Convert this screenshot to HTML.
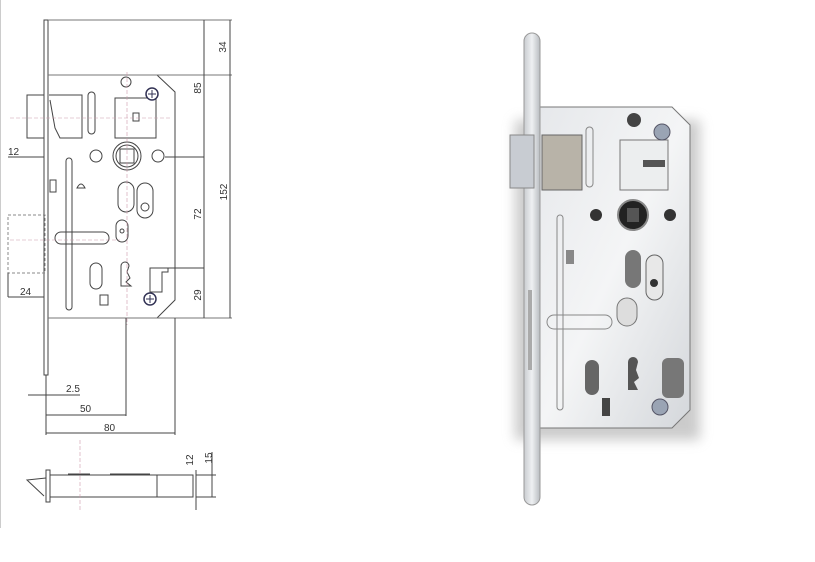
<!DOCTYPE html>
<html><head><meta charset="utf-8"><style>
html,body{margin:0;padding:0;background:#fff}
svg{display:block}
text{font-family:"Liberation Sans",sans-serif;font-size:10px;fill:#333}
</style></head><body>
<svg width="815" height="562" viewBox="0 0 815 562" xmlns="http://www.w3.org/2000/svg">
<defs>
<linearGradient id="plate" x1="0" x2="1"><stop offset="0" stop-color="#c9ccd0"/><stop offset="0.5" stop-color="#eef0f2"/><stop offset="1" stop-color="#b8bcc0"/></linearGradient>
<linearGradient id="body" x1="0" y1="0" x2="1" y2="1"><stop offset="0" stop-color="#e6e8eb"/><stop offset="0.5" stop-color="#f4f5f6"/><stop offset="1" stop-color="#d4d7db"/></linearGradient>
<filter id="blur"><feGaussianBlur stdDeviation="6"/></filter>
</defs>
<line x1="0.5" y1="0" x2="0.5" y2="528" stroke="#ccc"/>
<g fill="none" stroke="#444" stroke-width="1">
<!-- faceplate -->
<rect x="44" y="20" width="4" height="355"/>
<line x1="48" y1="20" x2="232" y2="20" stroke="#777"/>
<!-- case -->
<path d="M48 75 H157 L175 92 V300 L157 318 H48"/>
<line x1="48" y1="75" x2="232" y2="75" stroke="#777"/>
<line x1="48" y1="318" x2="232" y2="318" stroke="#777"/>
<!-- latch -->
<rect x="27" y="95" width="17" height="43"/>
<path d="M49 95 H82 V138 H60 L55 128 L50 100"/>
<rect x="88" y="92" width="7" height="42" rx="3.5"/>
<path d="M115 98 H156 V138 H115 Z"/>
<rect x="133" y="113" width="6" height="8"/>
<!-- spindle -->
<circle cx="127" cy="156" r="14"/><circle cx="127" cy="156" r="11"/>
<rect x="120" y="149" width="14" height="14"/>
<circle cx="96" cy="156" r="6"/><circle cx="158" cy="156" r="6"/>
<circle cx="126" cy="82" r="5"/>
<!-- slots -->
<rect x="118" y="182" width="16" height="30" rx="8"/>
<rect x="137" y="183" width="16" height="35" rx="8"/>
<circle cx="145" cy="207" r="4"/>
<rect x="116" y="220" width="12" height="22" rx="6"/><circle cx="122" cy="231" r="2"/>
<rect x="66" y="158" width="6" height="152" rx="3"/>
<rect x="55" y="232" width="54" height="12" rx="6"/>
<rect x="90" y="263" width="12" height="26" rx="6"/>
<path d="M121 266 a4 4 0 1 1 8 0 l-2 6 l3 6 l-4 4 l5 4 H121 Z"/>
<path d="M150 268 H168 V272 H162 V292 H150 Z"/>
<path d="M100 295 H108 V305 H100 Z"/>
<path d="M77 188 q4 -8 8 0 Z"/>
<rect x="50" y="180" width="6" height="12"/>
<!-- bolt dashed -->
<rect x="8" y="215" width="37" height="58" stroke-dasharray="3,2" stroke="#888"/>
<!-- dims -->
<line x1="204" y1="20" x2="204" y2="318"/>
<line x1="230" y1="20" x2="230" y2="318"/>
<line x1="165" y1="157" x2="204" y2="157"/>
<line x1="168" y1="268" x2="204" y2="268"/>
<line x1="8" y1="157" x2="44" y2="157"/>
<line x1="8" y1="297" x2="44" y2="297"/>
<line x1="8" y1="273" x2="8" y2="297"/>
<line x1="126" y1="318" x2="126" y2="416"/>
<line x1="175" y1="318" x2="175" y2="435"/>
<line x1="46" y1="375" x2="46" y2="435"/>
<line x1="28" y1="395" x2="80" y2="395"/>
<line x1="46" y1="415" x2="126" y2="415"/>
<line x1="46" y1="433" x2="175" y2="433"/>
<!-- bottom view -->
<rect x="46" y="470" width="4" height="32"/>
<path d="M50 475 H193 V497 H50"/>
<line x1="157" y1="475" x2="157" y2="497"/>
<path d="M46 478 L27 480 L44 496"/>
<path d="M110 474 H150 M68 474 H90"/>
<line x1="196" y1="475" x2="216" y2="475"/>
<line x1="196" y1="497" x2="216" y2="497"/>
<line x1="196" y1="470" x2="196" y2="510"/>
<line x1="212" y1="452" x2="212" y2="497"/>
</g>
<g stroke="#c9a" stroke-width="0.6" stroke-dasharray="4,2" fill="none">
<line x1="127" y1="72" x2="127" y2="325"/><line x1="10" y1="118" x2="170" y2="118"/>
<line x1="10" y1="240" x2="120" y2="240"/><line x1="80" y1="440" x2="80" y2="510"/>
</g>
<g fill="#fff" stroke="#335" stroke-width="1.5">
<circle cx="152" cy="94" r="6"/><circle cx="150" cy="299" r="6"/>
</g>
<g stroke="#335"><path d="M148 94h8M152 90v8M146 299h8M150 295v8"/></g>
<g>
<text transform="translate(226,47) rotate(-90)" text-anchor="middle">34</text>
<text transform="translate(201,88) rotate(-90)" text-anchor="middle">85</text>
<text transform="translate(227,192) rotate(-90)" text-anchor="middle">152</text>
<text transform="translate(201,214) rotate(-90)" text-anchor="middle">72</text>
<text transform="translate(201,295) rotate(-90)" text-anchor="middle">29</text>
<text x="8" y="155">12</text>
<text x="20" y="295">24</text>
<text x="66" y="392">2.5</text>
<text x="80" y="412">50</text>
<text x="104" y="431">80</text>
<text transform="translate(193,460) rotate(-90)" text-anchor="middle">12</text>
<text transform="translate(212,458) rotate(-90)" text-anchor="middle">15</text>
</g>
<!-- photo -->
<rect x="515" y="120" width="185" height="320" fill="#999" opacity="0.5" filter="url(#blur)"/>
<path d="M540 107 H672 L690 125 V410 L672 428 H540 Z" fill="url(#body)" stroke="#777"/>
<rect x="524" y="33" width="16" height="472" rx="8" fill="url(#plate)" stroke="#999"/>
<rect x="510" y="135" width="24" height="53" fill="#c8ccd2" stroke="#888"/>
<rect x="542" y="135" width="40" height="55" fill="#b8b3a8" stroke="#666"/>
<rect x="586" y="127" width="7" height="60" rx="3.5" fill="none" stroke="#888"/>
<rect x="620" y="140" width="48" height="50" fill="#eceeef" stroke="#777"/>
<rect x="643" y="160" width="22" height="7" fill="#555"/>
<circle cx="634" cy="120" r="7" fill="#444"/>
<circle cx="662" cy="132" r="8" fill="#9aa4b4" stroke="#556"/>
<circle cx="660" cy="407" r="8" fill="#9aa4b4" stroke="#556"/>
<circle cx="633" cy="215" r="15" fill="#222" stroke="#888" stroke-width="2"/>
<rect x="627" y="208" width="12" height="14" fill="#555"/>
<circle cx="596" cy="215" r="6" fill="#333"/><circle cx="670" cy="215" r="6" fill="#333"/>
<rect x="625" y="250" width="16" height="38" rx="8" fill="#777"/>
<rect x="646" y="255" width="17" height="45" rx="8.5" fill="#e8e8e8" stroke="#666"/>
<circle cx="654" cy="283" r="4" fill="#333"/>
<rect x="617" y="298" width="20" height="28" rx="10" fill="#ddd" stroke="#777"/>
<rect x="557" y="215" width="6" height="195" rx="3" fill="none" stroke="#888"/>
<rect x="547" y="315" width="65" height="14" rx="7" fill="none" stroke="#888"/>
<rect x="585" y="360" width="14" height="35" rx="7" fill="#666"/>
<path d="M628 362 a5 5 0 1 1 10 0 l-2 8 l3 8 l-5 4 l4 8 H628 Z" fill="#555"/>
<rect x="662" y="358" width="22" height="40" rx="6" fill="#777"/>
<rect x="602" y="398" width="8" height="18" fill="#444"/>
<rect x="566" y="250" width="8" height="14" fill="#888"/>
<rect x="528" y="290" width="4" height="80" fill="#aaa"/>
</svg>
</body></html>
